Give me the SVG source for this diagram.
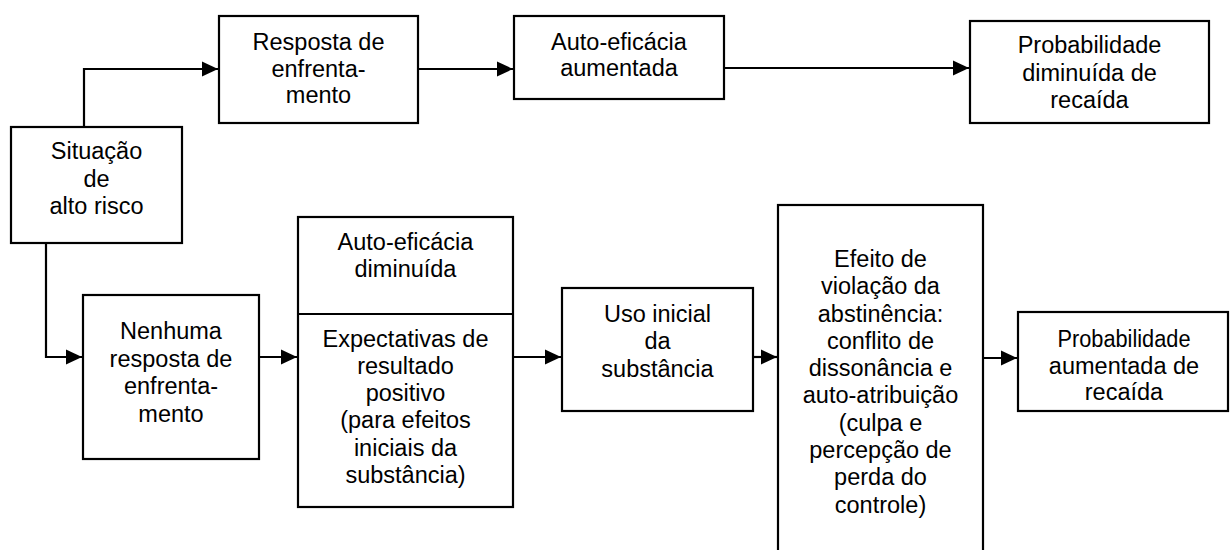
<svg xmlns="http://www.w3.org/2000/svg" width="1231" height="550" viewBox="0 0 1231 550">
<defs>
<style>
.box{fill:#fff;stroke:#000;stroke-width:2.2}
.ln{fill:none;stroke:#000;stroke-width:2.2}
text{font-family:"Liberation Sans",Arial,sans-serif;font-size:23.5px;fill:#000;text-anchor:middle}
</style>
<marker id="ah" markerWidth="16" markerHeight="16" viewBox="0 0 16 16" refX="16" refY="8" orient="auto" markerUnits="userSpaceOnUse">
<path d="M0,0.5 L16,8 L0,15.5 Z" fill="#000"/>
</marker>
</defs>
<rect width="1231" height="550" fill="#fff"/>
<g id="connectors">
<path class="ln" d="M84,127 V69 H218" marker-end="url(#ah)"/>
<path class="ln" d="M418,69 H513" marker-end="url(#ah)"/>
<path class="ln" d="M724,68 H969" marker-end="url(#ah)"/>
<path class="ln" d="M46,243 V357 H82" marker-end="url(#ah)"/>
<path class="ln" d="M259,357 H297" marker-end="url(#ah)"/>
<path class="ln" d="M513,357 H561" marker-end="url(#ah)"/>
<path class="ln" d="M753,357 H777" marker-end="url(#ah)"/>
<path class="ln" d="M983,358 H1017" marker-end="url(#ah)"/>
</g>
<g id="situacao">
<rect class="box" x="11" y="127" width="171" height="116"/>
<text x="96.5" y="159">Situação</text>
<text x="96.5" y="187">de</text>
<text x="96.5" y="214">alto risco</text>
</g>
<g id="resposta">
<rect class="box" x="219" y="16" width="199" height="107"/>
<text x="318.5" y="50">Resposta de</text>
<text x="318.5" y="77">enfrenta-</text>
<text x="318.5" y="103">mento</text>
</g>
<g id="autoeficacia-aumentada">
<rect class="box" x="514" y="16" width="210" height="83"/>
<text x="619" y="50">Auto-eficácia</text>
<text x="619" y="76">aumentada</text>
</g>
<g id="prob-diminuida">
<rect class="box" x="970" y="21" width="239" height="102"/>
<text x="1089.5" y="53">Probabilidade</text>
<text x="1089.5" y="81">diminuída de</text>
<text x="1089.5" y="108">recaída</text>
</g>
<g id="nenhuma">
<rect class="box" x="83" y="295" width="176" height="164"/>
<text x="171" y="339">Nenhuma</text>
<text x="171" y="367">resposta de</text>
<text x="171" y="394">enfrenta-</text>
<text x="171" y="422">mento</text>
</g>
<g id="autoeficacia-diminuida">
<rect class="box" x="298" y="217" width="215" height="290"/>
<line class="ln" x1="298" y1="314" x2="513" y2="314"/>
<text x="405.5" y="250">Auto-eficácia</text>
<text x="405.5" y="277">diminuída</text>
<text x="405.5" y="347">Expectativas de</text>
<text x="405.5" y="374">resultado</text>
<text x="405.5" y="401">positivo</text>
<text x="405.5" y="428">(para efeitos</text>
<text x="405.5" y="456">iniciais da</text>
<text x="405.5" y="483">substância)</text>
</g>
<g id="uso-inicial">
<rect class="box" x="562" y="288" width="191" height="123"/>
<text x="657.5" y="322">Uso inicial</text>
<text x="657.5" y="349">da</text>
<text x="657.5" y="377">substância</text>
</g>
<g id="efeito-violacao">
<rect class="box" x="778" y="205" width="205" height="360"/>
<text x="880.5" y="267">Efeito de</text>
<text x="880.5" y="294">violação da</text>
<text x="880.5" y="322">abstinência:</text>
<text x="880.5" y="349">conflito de</text>
<text x="880.5" y="376">dissonância e</text>
<text x="880.5" y="403">auto-atribuição</text>
<text x="880.5" y="431">(culpa e</text>
<text x="880.5" y="458">percepção de</text>
<text x="880.5" y="485">perda do</text>
<text x="880.5" y="513">controle)</text>
</g>
<g id="prob-aumentada">
<rect class="box" x="1018" y="312" width="210" height="99"/>
<text x="1124" y="347" textLength="133" lengthAdjust="spacingAndGlyphs">Probabilidade</text>
<text x="1124" y="374">aumentada de</text>
<text x="1124" y="400">recaída</text>
</g>
</svg>
